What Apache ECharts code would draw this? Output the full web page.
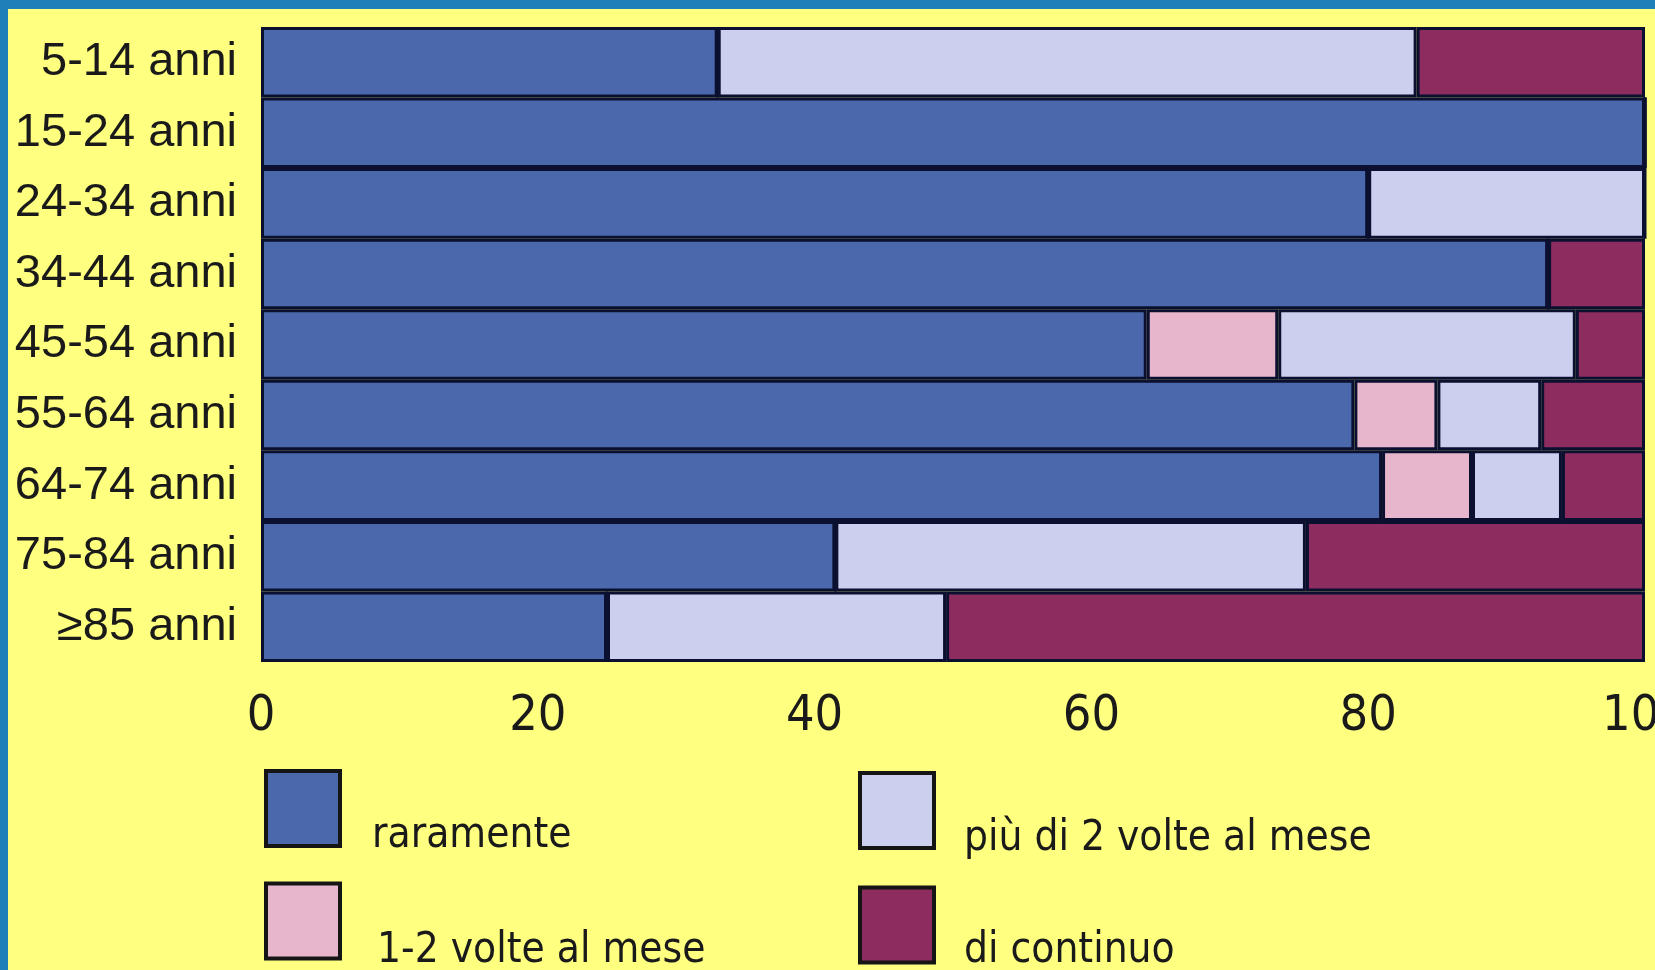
<!DOCTYPE html>
<html>
<head>
<meta charset="utf-8">
<script src="https://cdn.jsdelivr.net/npm/echarts@6/dist/echarts.min.js"></script>
<style>
  html, body { margin: 0; padding: 0; background: #ffff80; }
  #chart { width: 1655px; height: 970px; }
</style>
</head>
<body>
<div id="chart"></div>
<script>
// Age groups, top to bottom
const categories = ['5-14 anni', '15-24 anni', '24-34 anni', '34-44 anni', '45-54 anni',
                    '55-64 anni', '64-74 anni', '75-84 anni', '≥85 anni'];

// Share of each age group (%) by frequency
const raramente   = [33, 100, 80, 93, 64, 79, 81, 41.5, 25];
const unoDueMese  = [0, 0, 0, 0, 9.5, 6, 6.5, 0, 0];
const piuDiDue    = [50.5, 0, 20, 0, 21.5, 7.5, 6.5, 34, 24.5];
const diContinuo  = [16.5, 0, 0, 7, 5, 7.5, 6, 24.5, 50.5];

const xTicks = [0, 20, 40, 60, 80, 100];

const names = ['raramente', '1-2 volte al mese', 'più di 2 volte al mese', 'di continuo'];
const colors = ['#4a68ab', '#e8b6cc', '#cdcfee', '#8d2d5f'];
const values = [raramente, unoDueMese, piuDiDue, diContinuo];

const narrow = '"DejaVu Sans Condensed", "Liberation Sans Narrow", "Liberation Sans", sans-serif';

// One legend block per entry; the name sits low, level with the bottom of its swatch
function legendItem(name, left, top, padTop, padLeft) {
  return {
    data: [name],
    left: left,
    top: top,
    padding: 0,
    icon: 'rect',
    itemWidth: 74,
    itemHeight: 75,
    selectedMode: false,
    itemStyle: { borderColor: '#151515', borderWidth: 4 },
    formatter: n => '{t|' + n + '}',
    textStyle: {
      rich: {
        t: {
          fontFamily: narrow,
          fontSize: 42,
          lineHeight: 44,
          color: '#1a1a1a',
          padding: [padTop, 0, 0, padLeft]
        }
      }
    }
  };
}

const chart = echarts.init(document.getElementById('chart'), null, { renderer: 'canvas' });

chart.setOption({
  backgroundColor: '#ffff80',
  animation: false,
  graphic: [
    { type: 'rect', shape: { x: 0, y: 0, width: 1655, height: 9 }, style: { fill: '#1f80b9' }, z: 100 },
    { type: 'rect', shape: { x: 0, y: 0, width: 8, height: 970 }, style: { fill: '#1f80b9' }, z: 100 }
  ],
  grid: { left: 261, right: 10, top: 27, bottom: 308, outerBoundsMode: 'none', containLabel: false },
  xAxis: {
    type: 'value',
    min: 0,
    max: 100,
    interval: 20,
    axisLine: { show: false },
    axisTick: { show: false },
    splitLine: { show: false },
    axisLabel: {
      margin: 30,
      fontFamily: narrow,
      fontSize: 50,
      color: '#1a1a1a',
      hideOverlap: false,
      formatter: v => (xTicks.includes(v) ? String(v) : '')
    }
  },
  yAxis: {
    type: 'category',
    inverse: true,
    data: categories,
    axisLine: { show: false },
    axisTick: { show: false },
    axisLabel: {
      margin: 24,
      fontFamily: '"Liberation Sans", "DejaVu Sans", sans-serif',
      fontSize: 47,
      color: '#1a1a1a'
    }
  },
  legend: [
    legendItem(names[0], 264, 760, 55, 27),
    legendItem(names[2], 858, 761, 57, 25),
    legendItem(names[1], 264, 870, 60, 32),
    legendItem(names[3], 858, 878, 52, 25)
  ],
  series: names.map((n, i) => ({
    name: n,
    type: 'bar',
    stack: 'total',
    barCategoryGap: '0%',
    color: colors[i],
    itemStyle: { color: colors[i], borderColor: '#0b1030', borderWidth: 3 },
    data: values[i]
  }))
});
</script>
</body>
</html>
